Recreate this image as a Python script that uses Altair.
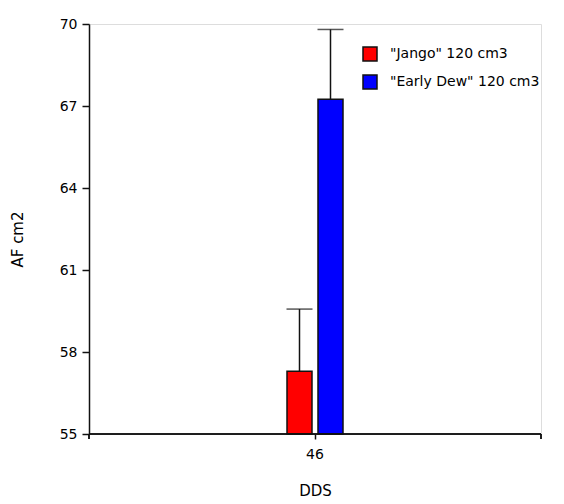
import altair as alt
import pandas as pd

categories = ["46", "46"]
series = ['"Jango" 120 cm3', '"Early Dew" 120 cm3']
means = [57.3, 67.25]
errors = [2.27, 2.55]
y_ticks = [55, 58, 61, 64, 67, 70]
colors = ["#FF0000", "#0000FF"]

df = pd.DataFrame({
    "DDS": categories,
    "series": series,
    "mean": means,
    "upper": [m + e for m, e in zip(means, errors)],
    "base": [y_ticks[0]] * len(means),
})

FONT = "DejaVu Sans"
W, H = 452, 410
LINE = "#111111"

x_scale = alt.Scale(range=[W / 2 - 28, W / 2 + 28], paddingInner=0, paddingOuter=0)
x_enc = alt.X("DDS:N", title="DDS", scale=x_scale,
              axis=alt.Axis(labelAngle=0, domain=False, tickColor=LINE,
                            tickWidth=1.5, tickSize=5,
                            labelColor="black", labelFontSize=14, labelFont=FONT,
                            labelPadding=8, titleFont=FONT, titleFontSize=15,
                            titleFontWeight="normal", titleColor="black", titlePadding=22))
xoff = alt.XOffset("series:N", sort=series,
                   scale=alt.Scale(paddingInner=0.1935, paddingOuter=0))
y_scale = alt.Scale(domain=[55, 70], zero=False, nice=False)
y_axis = alt.Axis(values=y_ticks, grid=False, domainColor=LINE, tickColor=LINE,
                  domainWidth=1.5, tickWidth=1.5, tickSize=7, labelColor="black",
                  labelFontSize=14, labelFont=FONT, labelPadding=5,
                  titleFont=FONT, titleFontSize=15, titleFontWeight="normal",
                  titleColor="black", titlePadding=34, titleY=215)
color = alt.Color("series:N", sort=series,
                  scale=alt.Scale(domain=series, range=colors),
                  legend=alt.Legend(title=None, orient="none", legendX=273, legendY=22,
                                    symbolType="square", symbolSize=196,
                                    symbolStrokeColor=LINE, symbolStrokeWidth=1.5,
                                    symbolOpacity=1, labelFont=FONT, labelFontSize=14,
                                    labelColor="black", rowPadding=8, labelOffset=12,
                                    labelLimit=400))

base = alt.Chart(df)

bars = base.mark_bar(stroke=LINE, strokeWidth=1.5, opacity=1).encode(
    x=x_enc, xOffset=xoff,
    y=alt.Y("mean:Q", title="AF cm2", scale=y_scale, axis=y_axis),
    y2="base:Q",
    color=color,
)

err = base.mark_rule(color=LINE, strokeWidth=1.5).encode(
    x="DDS:N", xOffset=xoff,
    y="mean:Q", y2="upper:Q",
)

caps = base.mark_tick(color=LINE, thickness=1.5, size=26, orient="horizontal").encode(
    x="DDS:N", xOffset=xoff,
    y="upper:Q",
)

x_domain = alt.Chart(df).mark_rule(color=LINE, strokeWidth=1.5).encode(
    x=alt.value(0), x2=alt.value(W), y=alt.value(H),
)
left_tick = alt.Chart(df).mark_rule(color=LINE, strokeWidth=1.5).encode(
    x=alt.value(0), y=alt.value(H), y2=alt.value(H + 5),
)
right_tick = alt.Chart(df).mark_rule(color=LINE, strokeWidth=1.5).encode(
    x=alt.value(W), y=alt.value(H), y2=alt.value(H + 5),
)

chart = alt.layer(bars, err, caps, x_domain, left_tick, right_tick).properties(
    width=W, height=H,
    autosize=alt.AutoSizeParams(type="none"),
    padding={"left": 81, "top": 16, "right": 15, "bottom": 70},
).configure_view(stroke=None).configure(background="white")

chart.save("out.html", embed_options={"renderer": "svg", "actions": False})
